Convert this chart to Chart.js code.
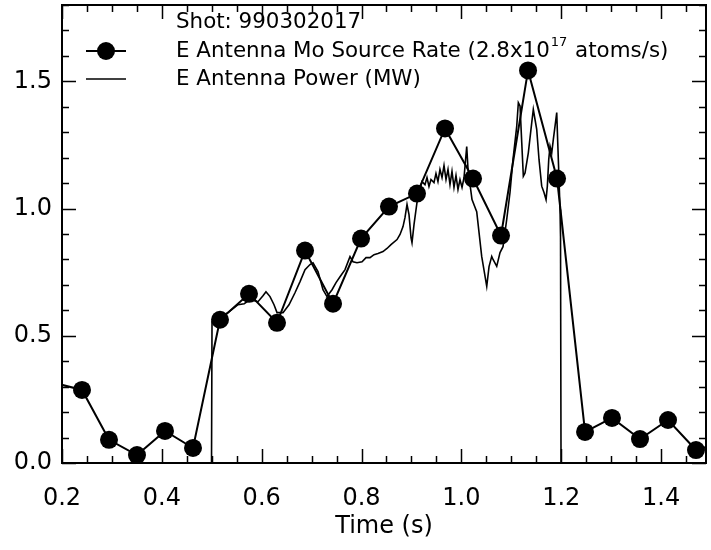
<!DOCTYPE html>
<html>
<head>
<meta charset="utf-8">
<script src="https://cdn.jsdelivr.net/npm/chart.js@4.4.1/dist/chart.umd.min.js"></script>
<style>
  html, body { margin: 0; padding: 0; background: #fff; }
  #wrap { width: 711px; height: 550px; }
</style>
</head>
<body>
<div id="wrap"><canvas id="c" width="711" height="550"></canvas></div>
<script>
// ---- Data ----
const shotLabel = 'Shot: 990302017';
const rateLabelMain = 'E Antenna Mo Source Rate (2.8x10';
const rateLabelSup = '17';
const rateLabelEnd = ' atoms/s)';
const powerLabel = 'E Antenna Power (MW)';
const xTitle = 'Time (s)';

const xTickValues = [0.2, 0.4, 0.6, 0.8, 1.0, 1.2, 1.4];
const yTickValues = [0.0, 0.5, 1.0, 1.5];

// Mo source rate (units of 2.8e17 atoms/s)
const rateTime = [0.170, 0.2401, 0.2942, 0.3502, 0.4063, 0.4624, 0.5165, 0.5746, 0.6307, 0.6868,
  0.7429, 0.7990, 0.8550, 0.9111, 0.9672, 1.0233, 1.0794, 1.1335, 1.1916, 1.2477,
  1.3017, 1.3578, 1.4139, 1.4700, 1.526];
const rateValue = [0.322, 0.287, 0.091, 0.031, 0.126, 0.059, 0.563, 0.665, 0.551, 0.835,
  0.626, 0.882, 1.008, 1.059, 1.315, 1.118, 0.894, 1.543, 1.118, 0.122,
  0.177, 0.094, 0.169, 0.051, 0.083];

// E antenna power (MW)
const powerTime = [
  0.19, 0.4995, 0.5005, 0.5125, 0.5325, 0.5526, 0.5650, 0.5766, 0.5926, 0.6026,
  0.6086, 0.6167, 0.6247, 0.6307, 0.6427, 0.6547, 0.6667, 0.6768, 0.6868, 0.6968,
  0.7028, 0.7128, 0.7228, 0.7308, 0.7409, 0.7489, 0.7569, 0.7669, 0.7769, 0.7829,
  0.7909, 0.8010, 0.8090, 0.8170, 0.8250, 0.8330, 0.8430, 0.8510, 0.8590, 0.8711,
  0.8771, 0.8831, 0.8871, 0.8911, 0.8951, 0.8991, 0.9011, 0.9051, 0.9111, 0.9171,
  0.9211, 0.9271, 0.9311, 0.9351, 0.9391, 0.9451, 0.9491, 0.9531, 0.9571, 0.9612,
  0.9652, 0.9692, 0.9732, 0.9772, 0.9812, 0.9852, 0.9892, 0.9932, 0.9972, 1.0013,
  1.0053, 1.0107, 1.0133, 1.0213, 1.0307, 1.0407, 1.0508, 1.0554, 1.0608, 1.0634,
  1.0708, 1.0774, 1.0834, 1.0908, 1.0974, 1.1034, 1.1109, 1.1141, 1.1175, 1.1209,
  1.1241, 1.1275, 1.1341, 1.1409, 1.1441, 1.1475, 1.1509, 1.1555, 1.1609, 1.1655,
  1.1696, 1.1722, 1.1750, 1.1776, 1.1810, 1.1842, 1.1876, 1.1910, 1.1930, 1.1956,
  1.1976, 1.1986, 1.1996, 1.50];
const powerMW = [
  0, 0, 0.555, 0.571, 0.591, 0.622, 0.626, 0.642, 0.634, 0.657,
  0.673, 0.654, 0.622, 0.591, 0.591, 0.622, 0.669, 0.713, 0.760, 0.780,
  0.787, 0.752, 0.681, 0.654, 0.681, 0.709, 0.732, 0.760, 0.811, 0.791,
  0.787, 0.791, 0.807, 0.807, 0.819, 0.823, 0.831, 0.843, 0.858, 0.878,
  0.898, 0.929, 0.965, 1.016, 0.976, 0.886, 0.866, 0.937, 1.024, 1.075,
  1.106, 1.094, 1.122, 1.087, 1.114, 1.102, 1.138, 1.106, 1.154, 1.122,
  1.169, 1.114, 1.154, 1.094, 1.146, 1.083, 1.130, 1.075, 1.114, 1.083,
  1.122, 1.244, 1.154, 1.035, 0.988, 0.812, 0.694, 0.772, 0.812, 0.800,
  0.773, 0.827, 0.850, 0.957, 1.063, 1.193, 1.324, 1.416, 1.403, 1.260,
  1.127, 1.140, 1.219, 1.337, 1.390, 1.350, 1.311, 1.193, 1.088, 1.063,
  1.035, 1.088, 1.193, 1.245, 1.219, 1.272, 1.324, 1.377, 1.260, 1.114,
  0.996, 0.890, 0, 0];

// ---- Chart ----
const FONT = '"DejaVu Sans", sans-serif';

const framePlugin = {
  id: 'frame',
  afterDatasetsDraw(chart) {
    const ctx = chart.ctx;
    const a = chart.chartArea;
    const xs = chart.scales.x, ys = chart.scales.y;
    ctx.save();
    ctx.strokeStyle = '#000';
    ctx.lineWidth = 2;
    ctx.strokeRect(a.left, a.top, a.right - a.left, a.bottom - a.top);
    ctx.lineWidth = 1.5;
    ctx.beginPath();
    for (let i = 4; i * 0.05 <= xs.max + 1e-9; i++) {
      const px = Math.round(xs.getPixelForValue(i * 0.05)) + 0.5;
      const len = (i % 4 === 0) ? 14 : 7;
      ctx.moveTo(px, a.bottom); ctx.lineTo(px, a.bottom - len);
      ctx.moveTo(px, a.top); ctx.lineTo(px, a.top + len);
    }
    for (let i = 0; i * 0.1 <= ys.max + 1e-9; i++) {
      const py = Math.round(ys.getPixelForValue(i * 0.1)) + 0.5;
      const len = (i % 5 === 0) ? 14 : 7;
      ctx.moveTo(a.left, py); ctx.lineTo(a.left + len, py);
      ctx.moveTo(a.right, py); ctx.lineTo(a.right - len, py);
    }
    ctx.stroke();
    ctx.restore();
  },
  afterDraw(chart) {
    const ctx = chart.ctx;
    ctx.save();
    ctx.fillStyle = '#000';
    ctx.strokeStyle = '#000';
    ctx.textBaseline = 'middle';
    ctx.textAlign = 'left';
    const tx = 176;
    ctx.font = '21.4px ' + FONT;
    ctx.fillText(shotLabel, tx, 22);
    // legend row 1
    ctx.lineWidth = 2;
    ctx.beginPath(); ctx.moveTo(86, 51); ctx.lineTo(126, 51); ctx.stroke();
    ctx.beginPath(); ctx.arc(106, 51, 9, 0, Math.PI * 2); ctx.fill();
    ctx.fillText(rateLabelMain, tx, 51);
    const w1 = ctx.measureText(rateLabelMain).width;
    ctx.font = '13px ' + FONT;
    ctx.fillText(rateLabelSup, tx + w1 + 1, 43);
    const w2 = ctx.measureText(rateLabelSup).width;
    ctx.font = '21.4px ' + FONT;
    ctx.fillText(rateLabelEnd, tx + w1 + w2 + 2, 51);
    // legend row 2
    ctx.lineWidth = 1.5;
    ctx.beginPath(); ctx.moveTo(86, 79); ctx.lineTo(126, 79); ctx.stroke();
    ctx.fillText(powerLabel, tx, 79);
    ctx.restore();
  }
};

new Chart(document.getElementById('c'), {
  type: 'line',
  data: {
    datasets: [
      {
        label: powerLabel,
        data: powerTime.map((t, i) => ({ x: t, y: powerMW[i] })),
        borderColor: '#000',
        borderWidth: 1.6,
        pointRadius: 0,
        tension: 0,
        fill: false
      },
      {
        label: 'Mo source rate',
        data: rateTime.map((t, i) => ({ x: t, y: rateValue[i] })),
        borderColor: '#000',
        backgroundColor: '#000',
        borderWidth: 2,
        pointRadius: 9,
        pointBackgroundColor: '#000',
        pointBorderColor: '#000',
        pointBorderWidth: 0,
        tension: 0,
        fill: false
      }
    ]
  },
  options: {
    responsive: false,
    animation: false,
    events: [],
    layout: { autoPadding: false, padding: { top: 5, right: 5, left: 0, bottom: 0 } },
    plugins: { legend: { display: false }, tooltip: { enabled: false }, title: { display: false } },
    scales: {
      x: {
        type: 'linear',
        min: 0.2,
        max: 1.49,
        afterBuildTicks: s => { s.ticks = xTickValues.map(v => ({ value: v })); },
        afterFit: s => { s.height = 87; s.paddingLeft = 0; s.paddingRight = 0; },
        grid: { display: false, drawTicks: false },
        border: { display: false },
        ticks: { color: '#000', font: { family: FONT, size: 24 }, padding: 21, maxRotation: 0, callback: v => Number(v).toFixed(1) },
        title: { display: true, text: xTitle, color: '#000', font: { family: FONT, size: 24 }, padding: { top: 0, bottom: 9 } }
      },
      y: {
        type: 'linear',
        min: 0,
        max: 1.8,
        afterBuildTicks: s => { s.ticks = yTickValues.map(v => ({ value: v })); },
        afterFit: s => { s.width = 62; s.paddingTop = 0; s.paddingBottom = 0; },
        grid: { display: false, drawTicks: false },
        border: { display: false },
        ticks: { color: '#000', font: { family: FONT, size: 24 }, padding: 10, callback: v => Number(v).toFixed(1) }
      }
    }
  },
  plugins: [framePlugin]
});
</script>
</body>
</html>
